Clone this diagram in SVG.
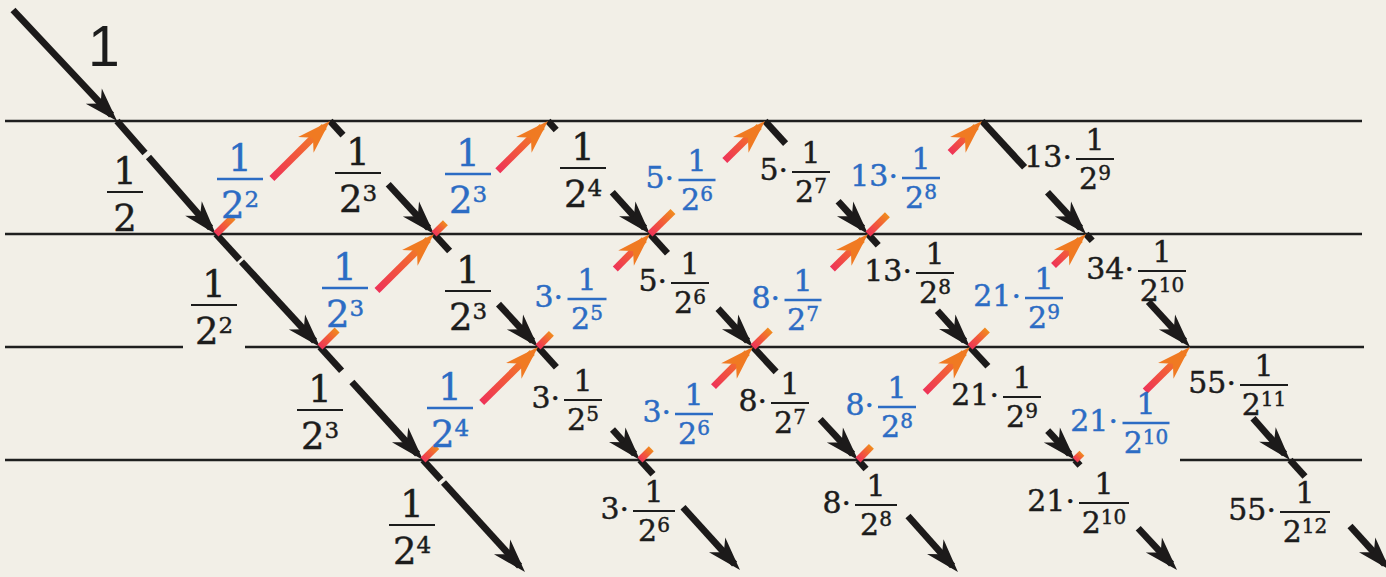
<svg xmlns="http://www.w3.org/2000/svg" width="1386" height="577" viewBox="0 0 1386 577">
<style>
.hl{stroke:#1f1f1f;stroke-width:2.4;fill:none}
.ka{stroke:#1c1a1a;stroke-width:6.8;marker-end:url(#mk)}
.ks{stroke:#1c1a1a;stroke-width:6.8}
.ra{stroke:url(#rg);stroke-width:7;marker-end:url(#mr)}
.rs{stroke:url(#rg);stroke-width:7}
text{font-family:"DejaVu Serif",serif}
.k{fill:#1c1c1c;stroke:#1c1c1c;stroke-width:0.45}
.b{fill:#2c6cc4;stroke:#2c6cc4;stroke-width:0.45}
.L{font-size:37px}
.S{font-size:30px}
.p{font-size:23px}
.q{font-size:20px}
.kb{stroke:#1c1c1c;stroke-width:2.2}
.bb{stroke:#2c6cc4;stroke-width:2.6}
</style>
<defs>
<marker id="mk" markerUnits="userSpaceOnUse" viewBox="-30 -14 40 28" refX="0" refY="0" markerWidth="40" markerHeight="28" orient="auto">
<path d="M8,0 L-26,-11 L-16,0 L-26,11 Z" fill="#1c1a1a"/>
</marker>
<marker id="mr" markerUnits="userSpaceOnUse" viewBox="-30 -14 40 28" refX="0" refY="0" markerWidth="40" markerHeight="28" orient="auto">
<path d="M8,0 L-26,-11 L-16,0 L-26,11 Z" fill="#f07a22"/>
</marker>
<linearGradient id="rg" x1="0" y1="1" x2="1" y2="0">
<stop offset="0" stop-color="#ee3358"/>
<stop offset="0.5" stop-color="#f25a3a"/>
<stop offset="1" stop-color="#f08c1e"/>
</linearGradient>
</defs>
<rect width="1386" height="577" fill="#f2efe7"/>
<g id="rules">
<line class="hl" x1="5" y1="121" x2="1362" y2="121"/>
<line class="hl" x1="5" y1="234" x2="1362" y2="234"/>
<line class="hl" x1="5" y1="347" x2="183" y2="347"/>
<line class="hl" x1="245" y1="347" x2="1364" y2="347"/>
<line class="hl" x1="5" y1="460" x2="1075" y2="460"/>
<line class="hl" x1="1180" y1="460" x2="1362" y2="460"/>
</g>
<g id="connectors">
<line class="ka" x1="13" y1="10" x2="111.6" y2="115.1"/>
<line class="ks" x1="117" y1="121" x2="145" y2="153"/>
<line class="ka" x1="148.5" y1="157" x2="210.6" y2="228.1"/>
<line class="ks" x1="330" y1="121" x2="343" y2="135.1"/>
<line class="ka" x1="388.2" y1="184.3" x2="428.6" y2="228.1"/>
<line class="ks" x1="548" y1="121" x2="556.2" y2="130"/>
<line class="ka" x1="612.3" y1="192.2" x2="644.6" y2="228.1"/>
<line class="ks" x1="765" y1="121" x2="785.6" y2="143.6"/>
<line class="ka" x1="838.1" y1="201.2" x2="862.6" y2="228.1"/>
<line class="ks" x1="982" y1="121" x2="1024.6" y2="167.3"/>
<line class="ka" x1="1047.5" y1="192.2" x2="1080.6" y2="228.1"/>
<line class="ks" x1="216" y1="234" x2="239.5" y2="259.6"/>
<line class="ka" x1="241.5" y1="261.8" x2="314.6" y2="341.1"/>
<line class="ks" x1="434" y1="234" x2="449.6" y2="251"/>
<line class="ka" x1="498.5" y1="304.1" x2="532.6" y2="341.1"/>
<line class="ks" x1="650" y1="234" x2="667.5" y2="253.2"/>
<line class="ka" x1="718" y1="308.6" x2="747.6" y2="341.1"/>
<line class="ks" x1="868" y1="234" x2="878.2" y2="245.3"/>
<line class="ka" x1="937.4" y1="310.8" x2="964.6" y2="341.1"/>
<line class="ks" x1="1086" y1="234" x2="1092.2" y2="240.8"/>
<line class="ka" x1="1148.4" y1="301.8" x2="1184.6" y2="341.1"/>
<line class="ks" x1="320" y1="347" x2="341.6" y2="370.7"/>
<line class="ka" x1="351.9" y1="382" x2="417.6" y2="454.1"/>
<line class="ks" x1="538" y1="347" x2="556.4" y2="367.3"/>
<line class="ka" x1="612.5" y1="429.5" x2="634.6" y2="454.1"/>
<line class="ks" x1="753" y1="347" x2="776.1" y2="371.9"/>
<line class="ka" x1="820.2" y1="419.3" x2="852.6" y2="454.1"/>
<line class="ks" x1="970" y1="347" x2="987.9" y2="366.2"/>
<line class="ka" x1="1047.7" y1="430.6" x2="1069.6" y2="454.1"/>
<line class="ka" x1="1253" y1="418.2" x2="1284.6" y2="454.1"/>
<line class="ks" x1="423" y1="460" x2="441" y2="479.8"/>
<line class="ka" x1="443.5" y1="482.5" x2="519.6" y2="566.1"/>
<line class="ks" x1="640" y1="460" x2="653" y2="474.3"/>
<line class="ka" x1="683" y1="507.3" x2="734.6" y2="564.1"/>
<line class="ks" x1="858" y1="460" x2="866" y2="469"/>
<line class="ka" x1="908" y1="516" x2="952.6" y2="566.1"/>
<line class="ks" x1="1075" y1="460" x2="1080" y2="465.5"/>
<line class="ka" x1="1138.2" y1="528.2" x2="1171.6" y2="564.1"/>
<line class="ks" x1="1290" y1="460" x2="1305" y2="476.5"/>
<line class="ka" x1="1350" y1="526" x2="1384.6" y2="564.1"/>
<line class="rs" x1="216" y1="234" x2="233.1" y2="217"/>
<line class="ra" x1="271.9" y1="178.6" x2="324.3" y2="126.6"/>
<line class="rs" x1="434" y1="234" x2="445.4" y2="222.7"/>
<line class="ra" x1="497.8" y1="170.7" x2="542.3" y2="126.6"/>
<line class="rs" x1="650" y1="234" x2="673" y2="211.4"/>
<line class="ra" x1="724.8" y1="160.6" x2="759.3" y2="126.6"/>
<line class="rs" x1="868" y1="234" x2="887.4" y2="214.8"/>
<line class="ra" x1="950.1" y1="152.6" x2="976.3" y2="126.6"/>
<line class="rs" x1="320" y1="347" x2="337.1" y2="330"/>
<line class="ra" x1="377" y1="290.5" x2="428.3" y2="239.6"/>
<line class="rs" x1="538" y1="347" x2="551.4" y2="333.4"/>
<line class="ra" x1="615.3" y1="269" x2="644.3" y2="239.6"/>
<line class="rs" x1="753" y1="347" x2="770.3" y2="330"/>
<line class="ra" x1="832.4" y1="269" x2="862.3" y2="239.6"/>
<line class="rs" x1="970" y1="347" x2="987.4" y2="330"/>
<line class="ra" x1="1053.5" y1="265.6" x2="1080.3" y2="239.6"/>
<line class="rs" x1="423" y1="460" x2="436.8" y2="446.4"/>
<line class="ra" x1="481.7" y1="402.4" x2="532.3" y2="352.6"/>
<line class="rs" x1="640" y1="460" x2="651.3" y2="448.7"/>
<line class="ra" x1="713.5" y1="386.6" x2="747.3" y2="352.6"/>
<line class="rs" x1="858" y1="460" x2="871.4" y2="446.4"/>
<line class="ra" x1="925.2" y1="392.2" x2="964.3" y2="352.6"/>
<line class="rs" x1="1075" y1="460" x2="1081.9" y2="453.2"/>
<line class="ra" x1="1145.2" y1="391.1" x2="1184.3" y2="352.6"/>
</g>
<g id="start"><text x="88" y="66" style="font-family:'Liberation Sans',sans-serif;font-size:57px;stroke-width:0" class="k">1</text></g>
<g id="k1"><text class="k L" x="125" y="184" text-anchor="middle">1</text><line class="kb" x1="107" y1="192" x2="143" y2="192"/><text class="k L" x="125" y="231" text-anchor="middle">2</text></g>
<g id="k2"><text class="k L" x="214" y="297" text-anchor="middle">1</text><line class="kb" x1="191" y1="305" x2="237" y2="305"/><text class="k L" x="214" y="344" text-anchor="middle">2<tspan class="p" dy="-11">2</tspan></text></g>
<g id="k3"><text class="k L" x="320" y="402" text-anchor="middle">1</text><line class="kb" x1="297" y1="410" x2="343" y2="410"/><text class="k L" x="320" y="449" text-anchor="middle">2<tspan class="p" dy="-11">3</tspan></text></g>
<g id="k4"><text class="k L" x="412" y="517" text-anchor="middle">1</text><line class="kb" x1="389" y1="525" x2="435" y2="525"/><text class="k L" x="412" y="564" text-anchor="middle">2<tspan class="p" dy="-11">4</tspan></text></g>
<g id="k5"><text class="k L" x="358" y="165" text-anchor="middle">1</text><line class="kb" x1="335" y1="173" x2="381" y2="173"/><text class="k L" x="358" y="212" text-anchor="middle">2<tspan class="p" dy="-11">3</tspan></text></g>
<g id="k6"><text class="k L" x="583" y="160" text-anchor="middle">1</text><line class="kb" x1="560" y1="168" x2="606" y2="168"/><text class="k L" x="583" y="207" text-anchor="middle">2<tspan class="p" dy="-11">4</tspan></text></g>
<g id="k7"><text class="k L" x="468" y="283" text-anchor="middle">1</text><line class="kb" x1="445" y1="291" x2="491" y2="291"/><text class="k L" x="468" y="330" text-anchor="middle">2<tspan class="p" dy="-11">3</tspan></text></g>
<g id="b1"><text class="b L" x="240" y="171" text-anchor="middle">1</text><line class="bb" x1="217" y1="179" x2="263" y2="179"/><text class="b L" x="240" y="218" text-anchor="middle">2<tspan class="p" dy="-11">2</tspan></text></g>
<g id="b2"><text class="b L" x="468" y="166" text-anchor="middle">1</text><line class="bb" x1="445" y1="174" x2="491" y2="174"/><text class="b L" x="468" y="213" text-anchor="middle">2<tspan class="p" dy="-11">3</tspan></text></g>
<g id="b3"><text class="b L" x="345" y="280" text-anchor="middle">1</text><line class="bb" x1="322" y1="288" x2="368" y2="288"/><text class="b L" x="345" y="327" text-anchor="middle">2<tspan class="p" dy="-11">3</tspan></text></g>
<g id="b4"><text class="b L" x="450" y="400" text-anchor="middle">1</text><line class="bb" x1="427" y1="408" x2="473" y2="408"/><text class="b L" x="450" y="447" text-anchor="middle">2<tspan class="p" dy="-11">4</tspan></text></g>
<g id="s1"><text class="k S" x="788" y="180" text-anchor="end">5·</text><text class="k S" x="811" y="163" text-anchor="middle">1</text><line class="kb" x1="792" y1="172" x2="830" y2="172"/><text class="k S" x="811" y="202" text-anchor="middle">2<tspan class="q" dy="-9">7</tspan></text></g>
<g id="s2"><text class="k S" x="1072" y="167" text-anchor="end">13·</text><text class="k S" x="1095" y="150" text-anchor="middle">1</text><line class="kb" x1="1076" y1="159" x2="1114" y2="159"/><text class="k S" x="1095" y="189" text-anchor="middle">2<tspan class="q" dy="-9">9</tspan></text></g>
<g id="s3"><text class="k S" x="667" y="291" text-anchor="end">5·</text><text class="k S" x="690" y="274" text-anchor="middle">1</text><line class="kb" x1="671" y1="283" x2="709" y2="283"/><text class="k S" x="690" y="313" text-anchor="middle">2<tspan class="q" dy="-9">6</tspan></text></g>
<g id="s4"><text class="k S" x="912" y="281" text-anchor="end">13·</text><text class="k S" x="935" y="264" text-anchor="middle">1</text><line class="kb" x1="916" y1="273" x2="954" y2="273"/><text class="k S" x="935" y="303" text-anchor="middle">2<tspan class="q" dy="-9">8</tspan></text></g>
<g id="s5"><text class="k S" x="1134" y="279" text-anchor="end">34·</text><text class="k S" x="1162" y="262" text-anchor="middle">1</text><line class="kb" x1="1138" y1="271" x2="1186" y2="271"/><text class="k S" x="1162" y="301" text-anchor="middle">2<tspan class="q" dy="-9">10</tspan></text></g>
<g id="s6"><text class="k S" x="560" y="408" text-anchor="end">3·</text><text class="k S" x="583" y="391" text-anchor="middle">1</text><line class="kb" x1="564" y1="400" x2="602" y2="400"/><text class="k S" x="583" y="430" text-anchor="middle">2<tspan class="q" dy="-9">5</tspan></text></g>
<g id="s7"><text class="k S" x="767" y="411" text-anchor="end">8·</text><text class="k S" x="790" y="394" text-anchor="middle">1</text><line class="kb" x1="771" y1="403" x2="809" y2="403"/><text class="k S" x="790" y="433" text-anchor="middle">2<tspan class="q" dy="-9">7</tspan></text></g>
<g id="s8"><text class="k S" x="999" y="405" text-anchor="end">21·</text><text class="k S" x="1022" y="388" text-anchor="middle">1</text><line class="kb" x1="1003" y1="397" x2="1041" y2="397"/><text class="k S" x="1022" y="427" text-anchor="middle">2<tspan class="q" dy="-9">9</tspan></text></g>
<g id="s9"><text class="k S" x="1236" y="393" text-anchor="end">55·</text><text class="k S" x="1264" y="376" text-anchor="middle">1</text><line class="kb" x1="1240" y1="385" x2="1288" y2="385"/><text class="k S" x="1264" y="415" text-anchor="middle">2<tspan class="q" dy="-9">11</tspan></text></g>
<g id="s10"><text class="k S" x="629" y="519" text-anchor="end">3·</text><text class="k S" x="654" y="502" text-anchor="middle">1</text><line class="kb" x1="633" y1="511" x2="675" y2="511"/><text class="k S" x="654" y="541" text-anchor="middle">2<tspan class="q" dy="-9">6</tspan></text></g>
<g id="s11"><text class="k S" x="851" y="513" text-anchor="end">8·</text><text class="k S" x="876" y="496" text-anchor="middle">1</text><line class="kb" x1="855" y1="505" x2="897" y2="505"/><text class="k S" x="876" y="535" text-anchor="middle">2<tspan class="q" dy="-9">8</tspan></text></g>
<g id="s12"><text class="k S" x="1075" y="511" text-anchor="end">21·</text><text class="k S" x="1104" y="494" text-anchor="middle">1</text><line class="kb" x1="1079" y1="503" x2="1129" y2="503"/><text class="k S" x="1104" y="533" text-anchor="middle">2<tspan class="q" dy="-9">10</tspan></text></g>
<g id="s13"><text class="k S" x="1276" y="520" text-anchor="end">55·</text><text class="k S" x="1305" y="503" text-anchor="middle">1</text><line class="kb" x1="1280" y1="512" x2="1330" y2="512"/><text class="k S" x="1305" y="542" text-anchor="middle">2<tspan class="q" dy="-9">12</tspan></text></g>
<g id="t1"><text class="b S" x="674" y="188" text-anchor="end">5·</text><text class="b S" x="697" y="171" text-anchor="middle">1</text><line class="bb" x1="678.5" y1="180" x2="715.5" y2="180"/><text class="b S" x="697" y="210" text-anchor="middle">2<tspan class="q" dy="-9">6</tspan></text></g>
<g id="t2"><text class="b S" x="898" y="186" text-anchor="end">13·</text><text class="b S" x="921" y="169" text-anchor="middle">1</text><line class="bb" x1="902" y1="178" x2="940" y2="178"/><text class="b S" x="921" y="208" text-anchor="middle">2<tspan class="q" dy="-9">8</tspan></text></g>
<g id="t3"><text class="b S" x="563" y="307" text-anchor="end">3·</text><text class="b S" x="587" y="290" text-anchor="middle">1</text><line class="bb" x1="567.5" y1="299" x2="606.5" y2="299"/><text class="b S" x="587" y="329" text-anchor="middle">2<tspan class="q" dy="-9">5</tspan></text></g>
<g id="t4"><text class="b S" x="780" y="308" text-anchor="end">8·</text><text class="b S" x="803" y="291" text-anchor="middle">1</text><line class="bb" x1="784.5" y1="300" x2="821.5" y2="300"/><text class="b S" x="803" y="330" text-anchor="middle">2<tspan class="q" dy="-9">7</tspan></text></g>
<g id="t5"><text class="b S" x="1021" y="306" text-anchor="end">21·</text><text class="b S" x="1044" y="289" text-anchor="middle">1</text><line class="bb" x1="1025" y1="298" x2="1063" y2="298"/><text class="b S" x="1044" y="328" text-anchor="middle">2<tspan class="q" dy="-9">9</tspan></text></g>
<g id="t6"><text class="b S" x="671" y="422" text-anchor="end">3·</text><text class="b S" x="694" y="405" text-anchor="middle">1</text><line class="bb" x1="675" y1="414" x2="713" y2="414"/><text class="b S" x="694" y="444" text-anchor="middle">2<tspan class="q" dy="-9">6</tspan></text></g>
<g id="t7"><text class="b S" x="874" y="415" text-anchor="end">8·</text><text class="b S" x="897" y="398" text-anchor="middle">1</text><line class="bb" x1="878" y1="407" x2="916" y2="407"/><text class="b S" x="897" y="437" text-anchor="middle">2<tspan class="q" dy="-9">8</tspan></text></g>
<g id="t8"><text class="b S" x="1118" y="431" text-anchor="end">21·</text><text class="b S" x="1146" y="414" text-anchor="middle">1</text><line class="bb" x1="1122.5" y1="423" x2="1169.5" y2="423"/><text class="b S" x="1146" y="453" text-anchor="middle">2<tspan class="q" dy="-9">10</tspan></text></g>
</svg>
